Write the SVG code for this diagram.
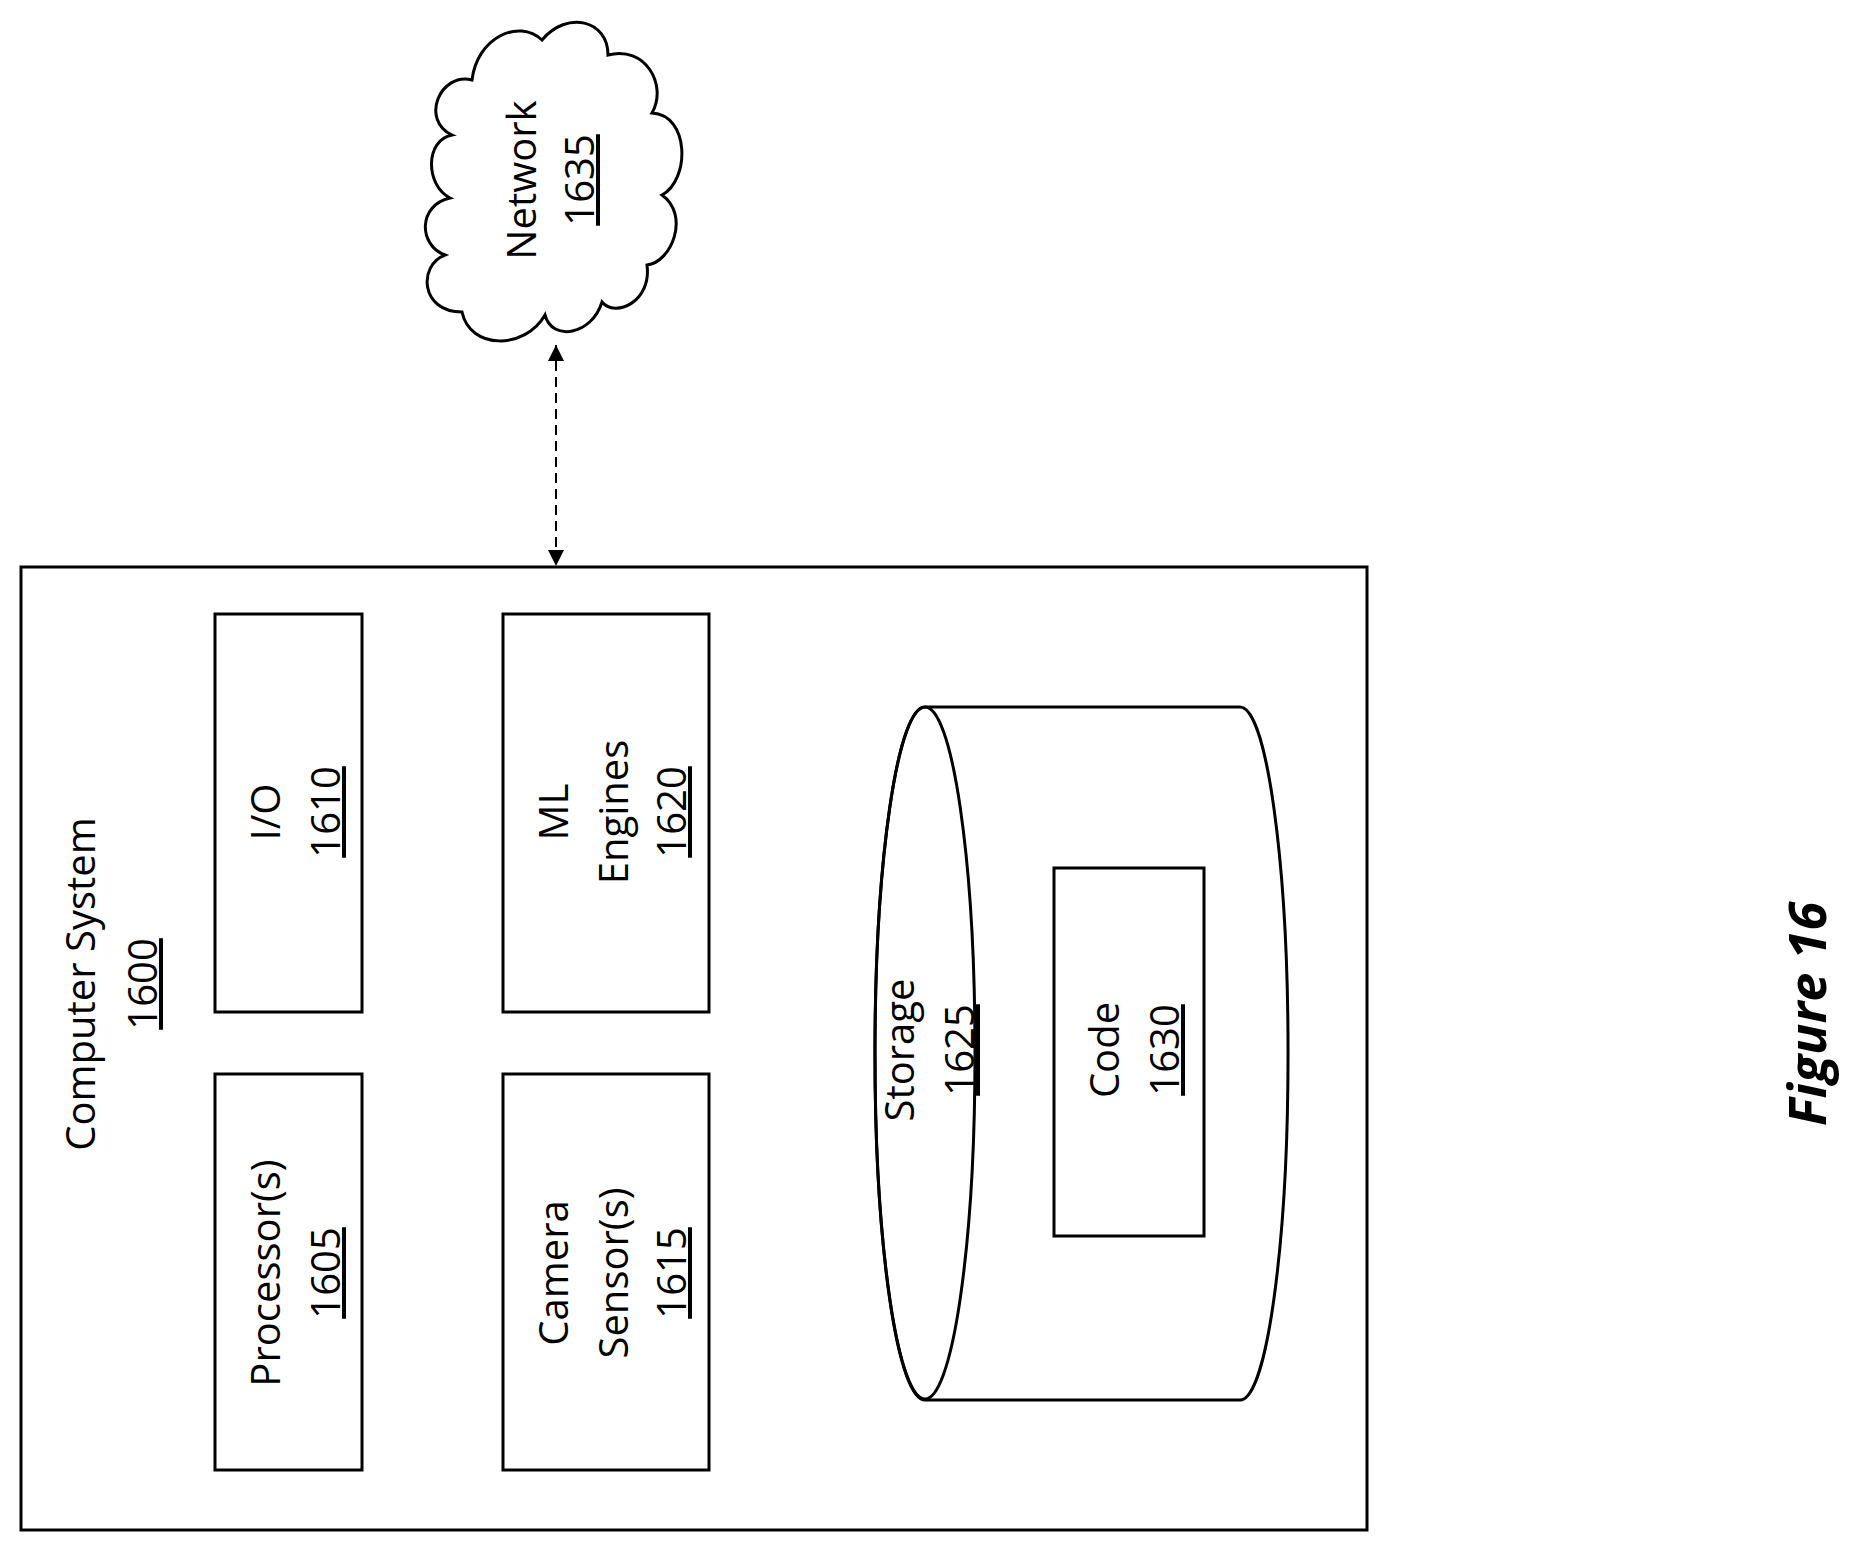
<svg xmlns="http://www.w3.org/2000/svg" width="1850" height="1542" viewBox="0 0 1850 1542">
<style>
.b{fill:#fff;stroke:#000;stroke-width:3}
.t{font-family:"Open Sans","Liberation Sans",sans-serif;font-size:40px;text-anchor:middle;fill:#000}
.u{text-decoration:underline}
</style>
<defs>
<marker id="a" viewBox="0 0 10 10" refX="10" refY="5" markerWidth="18" markerHeight="16" markerUnits="userSpaceOnUse" orient="auto-start-reverse"><path d="M0,0L10,5L0,10z"/></marker>
</defs>
<rect width="1850" height="1542" fill="#fff"/>
<g id="connectors">
<line x1="556" y1="345" x2="556" y2="566" stroke="#000" stroke-width="2" stroke-dasharray="10,6" marker-start="url(#a)" marker-end="url(#a)"/>
</g>
<g id="n1600">
<rect class="b" x="21" y="567" width="1346" height="963"/>
<text class="t" transform="translate(95,984) rotate(-90)"><tspan x="0" y="0">Computer System</tspan><tspan class="u" x="0" y="62">1600</tspan></text>
</g>
<g id="n1605">
<rect class="b" x="215" y="1074" width="147" height="396"/>
<text class="t" transform="translate(280,1273) rotate(-90)"><tspan x="0" y="0">Processor(s)</tspan><tspan class="u" x="0" y="60">1605</tspan></text>
</g>
<g id="n1610">
<rect class="b" x="215" y="614" width="147" height="398"/>
<text class="t" transform="translate(280,812) rotate(-90)"><tspan x="0" y="0">I/O</tspan><tspan class="u" x="0" y="60">1610</tspan></text>
</g>
<g id="n1615">
<rect class="b" x="503" y="1074" width="206" height="396"/>
<text class="t" transform="translate(568,1273) rotate(-90)"><tspan x="0" y="0">Camera</tspan><tspan x="0" y="60">Sensor(s)</tspan><tspan class="u" x="0" y="118">1615</tspan></text>
</g>
<g id="n1620">
<rect class="b" x="503" y="614" width="206" height="398"/>
<text class="t" transform="translate(568,812) rotate(-90)"><tspan x="0" y="0">ML</tspan><tspan x="0" y="60">Engines</tspan><tspan class="u" x="0" y="118">1620</tspan></text>
</g>
<g id="n1625">
<path class="b" d="M925,707 L1240,707 A48,346 0 0 1 1240,1400 L925,1400 A50,346 0 0 1 925,707 Z"/>
<ellipse cx="925" cy="1053" rx="50" ry="346" fill="none" stroke="#000" stroke-width="3"/>
<text class="t" transform="translate(914,1050) rotate(-90)"><tspan x="0" y="0">Storage</tspan><tspan class="u" x="0" y="60">1625</tspan></text>
</g>
<g id="n1630">
<rect class="b" x="1054" y="868" width="150" height="368"/>
<text class="t" transform="translate(1119,1050) rotate(-90)"><tspan x="0" y="0">Code</tspan><tspan class="u" x="0" y="60">1630</tspan></text>
</g>
<g id="n1635">
<path class="b" d="M545,315 C525,350 470,350 462,312 C420,312 418,265 445,255 C418,245 418,205 450,198 C425,185 425,140 452,135 C420,120 440,72 472,80 C477,38 518,18 542,40 C567,10 608,20 608,55 C645,45 668,85 652,113 C690,115 690,180 662,195 C690,215 672,262 647,265 C652,302 615,318 602,302 C592,335 552,342 545,315 Z"/>
<text class="t" transform="translate(536,180) rotate(-90)"><tspan x="0" y="0">Network</tspan><tspan class="u" x="0" y="58">1635</tspan></text>
</g>
<text class="t" transform="translate(1826,1014) rotate(-90)" style="font-weight:bold;font-style:italic;font-size:52px">Figure 16</text>
</svg>
